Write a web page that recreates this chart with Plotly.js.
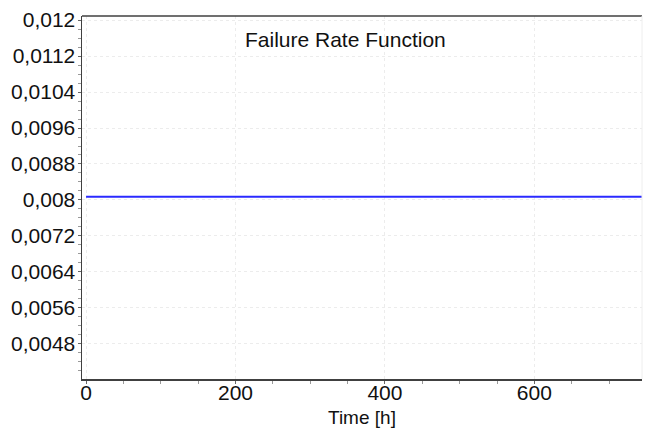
<!DOCTYPE html>
<html>
<head>
<meta charset="utf-8">
<script src="https://cdn.plot.ly/plotly-3.0.1.min.js"></script>
<style>html,body{margin:0;padding:0;background:#fff;}#chart{width:646px;height:429px;}</style>
</head>
<body>
<div id="chart"></div>
<script>
const timeHours = [0, 744];
const failureRate = [0.00807, 0.00807];
const chartTitle = "Failure Rate Function";
const xTitle = "Time [h]";

const font = "Liberation Sans, Arial, sans-serif";

const data = [{
  x: timeHours,
  y: failureRate,
  type: "scatter",
  mode: "lines",
  line: {color: "#2a2aff", width: 2},
  hoverinfo: "skip",
  cliponaxis: true
}];

const layout = {
  width: 646, height: 429,
  margin: {l: 82, r: 4, t: 16, b: 50},
  paper_bgcolor: "#ffffff",
  plot_bgcolor: "#ffffff",
  separators: ", ",
  showlegend: false,
  font: {family: font, size: 21, color: "#111111"},
  xaxis: {
    range: [-5.4, 744],
    tickmode: "linear", tick0: 0, dtick: 200,
    ticks: "outside", ticklen: 3, tickcolor: "#666666", tickwidth: 1,
    ticklabelstandoff: -9,
    showline: true, linecolor: "#404040", linewidth: 1.5,
    showgrid: true, gridcolor: "#ececec", griddash: "dot", gridwidth: 1,
    zeroline: false,
    tickfont: {family: font, size: 21, color: "#111111"},
    minor: {ticks: "outside", dtick: 50, ticklen: 3, tickcolor: "#999999", showgrid: false}
  },
  yaxis: {
    range: [0.00402, 0.01209],
    tickmode: "linear", tick0: 0.0048, dtick: 0.0008,
    tickformat: "~g",
    ticks: "outside", ticklen: 3, tickcolor: "#666666", tickwidth: 1,
    ticklabelstandoff: -2,
    showline: true, linecolor: "#404040", linewidth: 1.5,
    showgrid: true, gridcolor: "#ececec", griddash: "dot", gridwidth: 1,
    zeroline: false,
    tickfont: {family: font, size: 21, color: "#111111"},
    minor: {ticks: "outside", dtick: 0.0002, tick0: 0.0048, ticklen: 3, tickcolor: "#999999", showgrid: false}
  },
  shapes: [
    {type: "line", xref: "paper", yref: "paper", x0: 0, x1: 1, y0: 1, y1: 1,
     line: {color: "#404040", width: 1.5}},
    {type: "line", xref: "paper", yref: "paper", x0: 1, x1: 1, y0: 0, y1: 1,
     line: {color: "#eeeeee", width: 1}}
  ],
  annotations: [{
    text: chartTitle, xref: "paper", yref: "paper",
    x: 0.47, y: 0.934, xanchor: "center", yanchor: "middle",
    showarrow: false,
    font: {family: font, size: 21, color: "#111111"}
  }, {
    text: xTitle, xref: "paper", yref: "paper",
    x: 0.5, y: -0.1074, xanchor: "center", yanchor: "middle",
    showarrow: false, borderpad: 0,
    font: {family: font, size: 19, color: "#111111"}
  }]
};

Plotly.newPlot("chart", data, layout, {staticPlot: true, displayModeBar: false});
</script>
</body>
</html>
